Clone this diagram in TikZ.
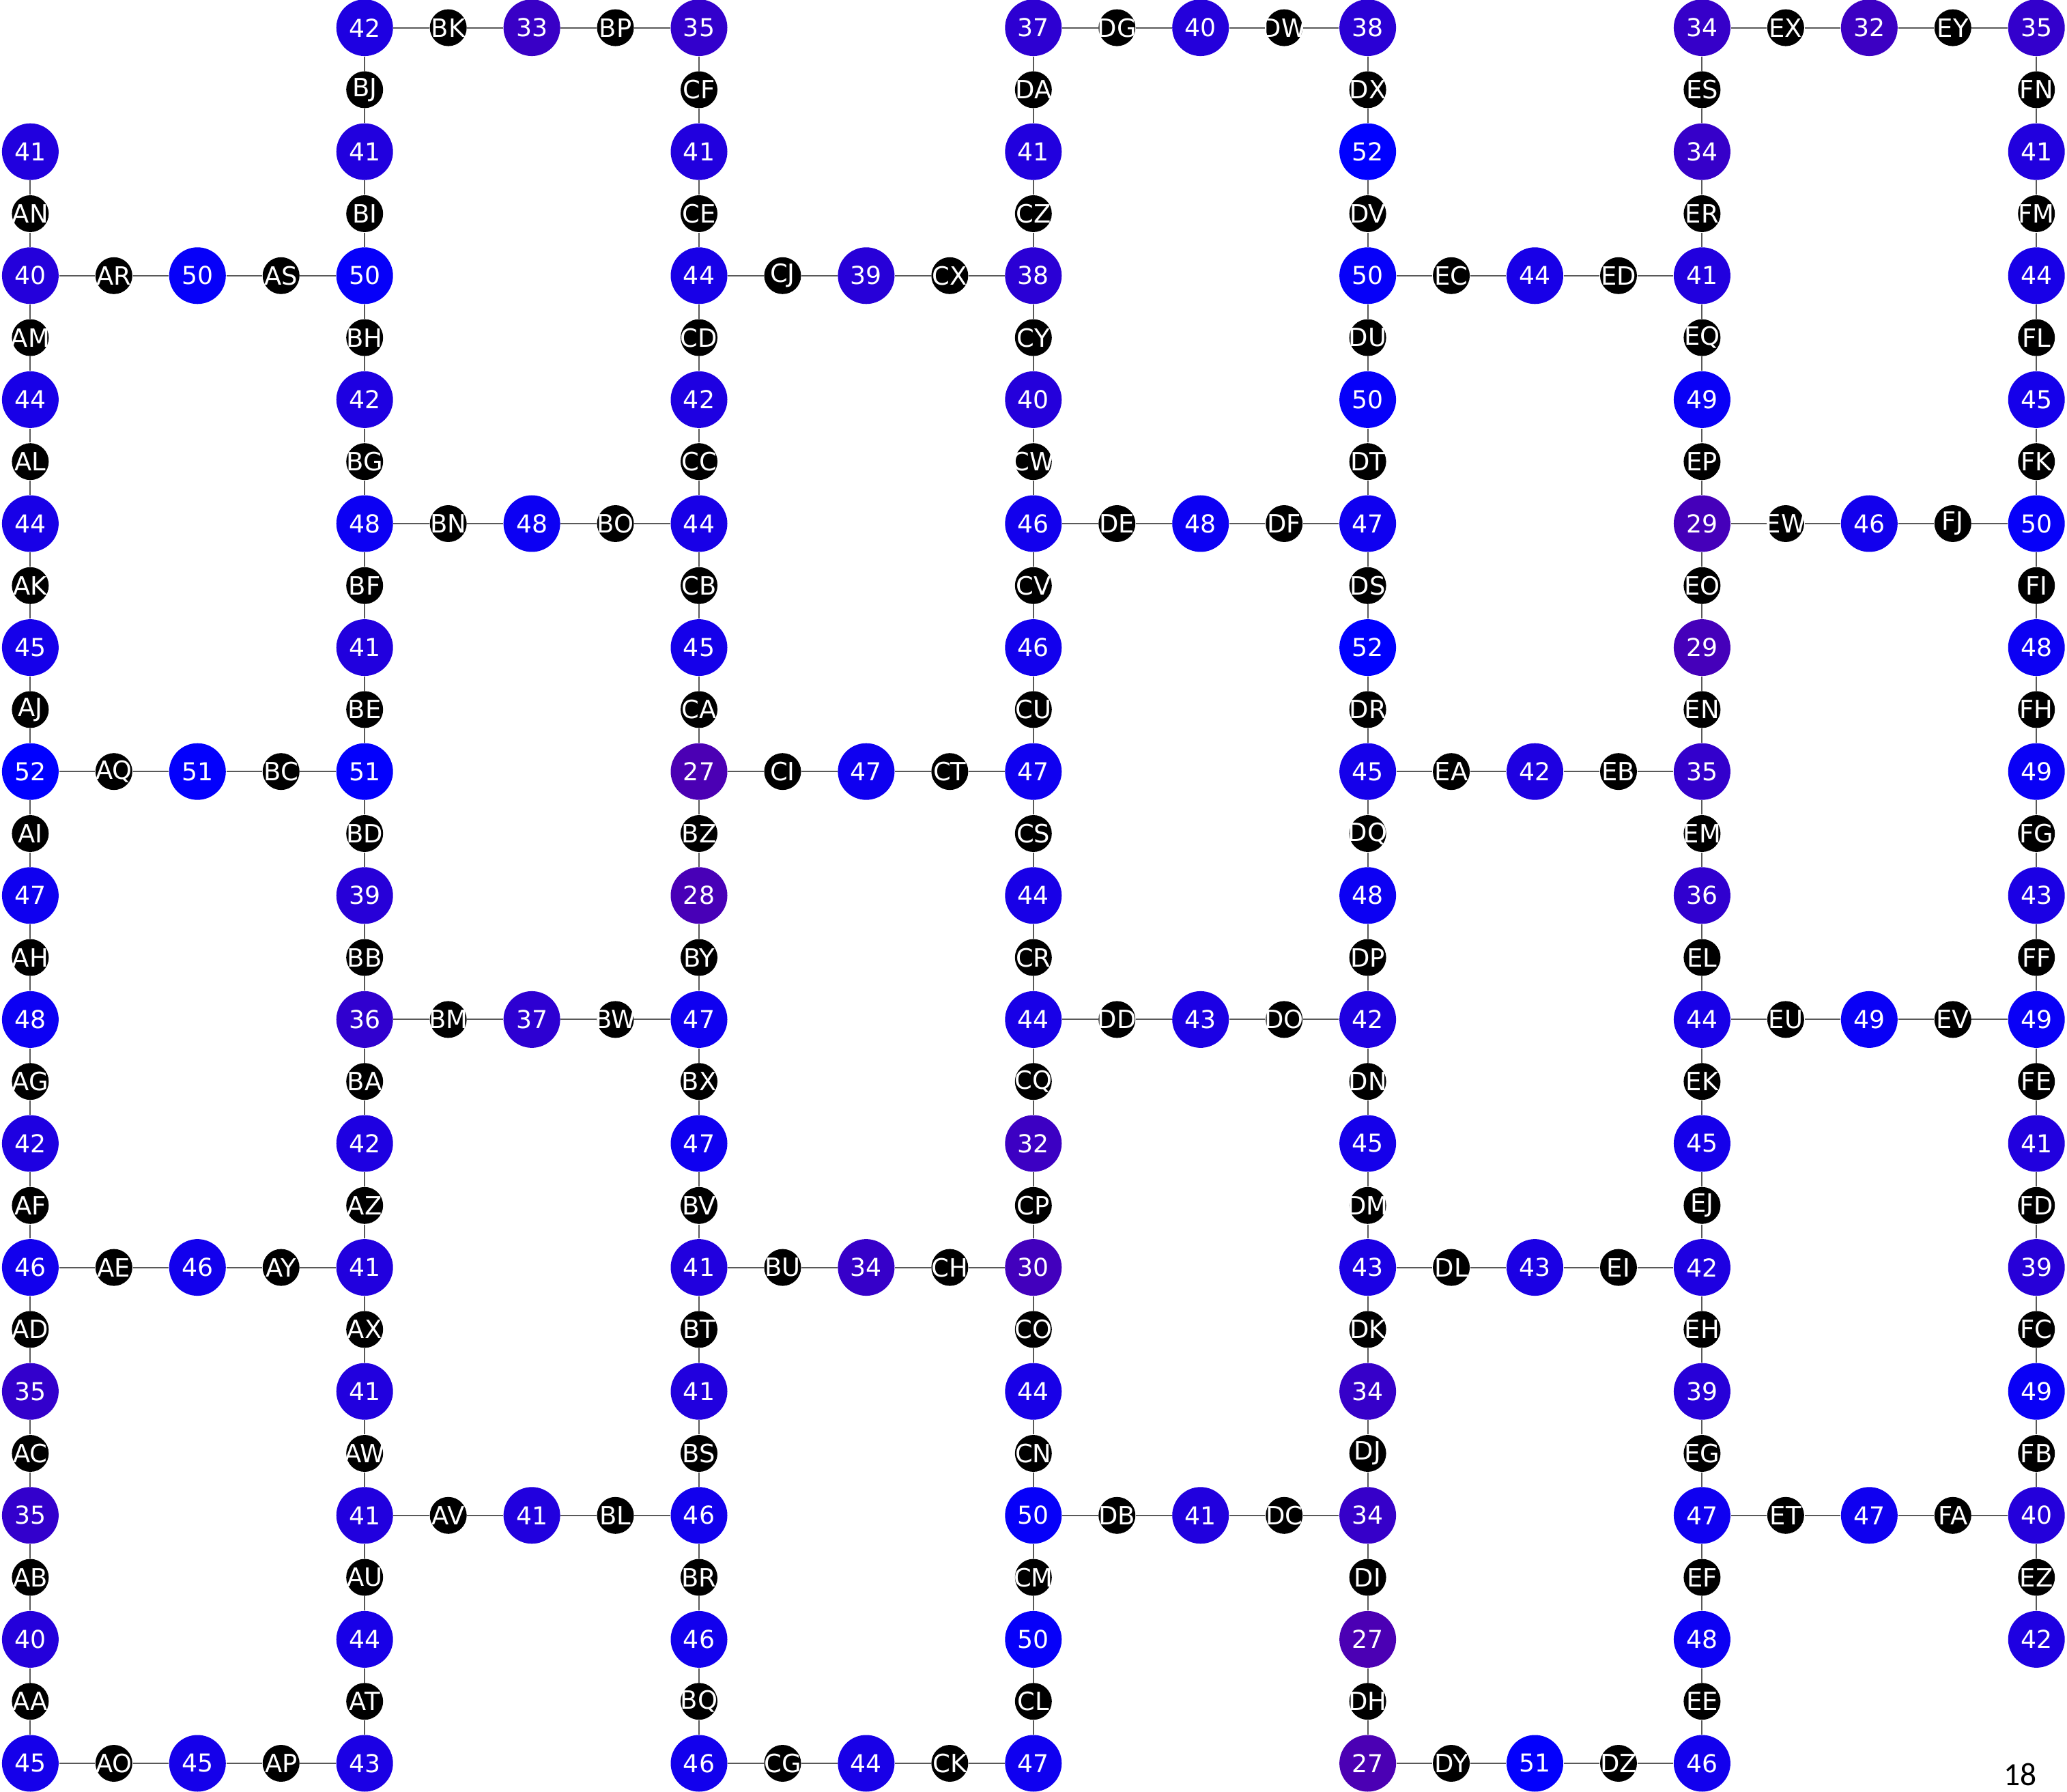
\documentclass[tikz,border=0pt]{standalone}
\usepackage{fontspec}
\setmainfont{DejaVu Sans}
\newfontfamily\pagefont{Carlito}
\usepackage{xcolor}
\usetikzlibrary{positioning}

\definecolor{hiblue}{RGB}{0,0,255}
\definecolor{lopurple}{RGB}{75,0,180}

\begin{document}
\begin{tikzpicture}[x=2.449cm, y=-1.816cm,
    bignode/.style={circle, minimum size=0.83cm, inner sep=0pt, text=white,
        font=\fontsize{10.3}{12}\selectfont},
    smallnode/.style={circle, fill=black, minimum size=0.54cm, inner sep=0pt, text=white,
        font=\fontsize{10.5}{12}\selectfont},
    edge/.style={black!65, line width=0.6pt}]
    \useasboundingbox (-0.444cm,0.406cm) rectangle ++(30.28cm,-26.25cm);

    % vertical chains: column / first row / values / labels in between
    \foreach \col/\fr/\vals/\labs in {
        0/1/{41,40,44,44,45,52,47,48,42,46,35,35,40,45}/{AN,AM,AL,AK,AJ,AI,AH,AG,AF,AD,AC,AB,AA},
        2/0/{42,41,50,42,48,41,51,39,36,42,41,41,41,44,43}/{BJ,BI,BH,BG,BF,BE,BD,BB,BA,AZ,AX,AW,AU,AT},
        4/0/{35,41,44,42,44,45,27,28,47,47,41,41,46,46,46}/{CF,CE,CD,CC,CB,CA,BZ,BY,BX,BV,BT,BS,BR,BQ},
        6/0/{37,41,38,40,46,46,47,44,44,32,30,44,50,50,47}/{DA,CZ,CY,CW,CV,CU,CS,CR,CQ,CP,CO,CN,CM,CL},
        8/0/{38,52,50,50,47,52,45,48,42,45,43,34,34,27,27}/{DX,DV,DU,DT,DS,DR,DQ,DP,DN,DM,DK,DJ,DI,DH},
        10/0/{34,34,41,49,29,29,35,36,44,45,42,39,47,48,46}/{ES,ER,EQ,EP,EO,EN,EM,EL,EK,EJ,EH,EG,EF,EE},
        12/0/{35,41,44,45,50,48,49,43,49,41,39,49,40,42}/{FN,FM,FL,FK,FI,FH,FG,FF,FE,FD,FC,FB,EZ}}{
        \foreach \v [count=\k from 0] in \vals {
            \pgfmathtruncatemacro\rw{\fr+\k}
            \pgfmathtruncatemacro\pct{4*(\v-27)}
            \node[bignode, fill=hiblue!\pct!lopurple] (n-\col-\rw) at (\col,\rw) {\v};
        }
        \foreach \l [count=\k from 0] in \labs {
            \pgfmathtruncatemacro\ra{\fr+\k}
            \pgfmathtruncatemacro\rb{\fr+\k+1}
            \node[smallnode] (\l) at (\col,\ra+0.5) {\makebox[0pt]{\l}};
            \draw[edge] (n-\col-\ra) -- (\l) -- (n-\col-\rb);
        }
    }

    % horizontal rungs: left column / row / label / value / label
    \foreach \col/\rw/\la/\v/\lb in {
        0/2/AR/50/AS, 0/6/AQ/51/BC, 0/10/AE/46/AY, 0/14/AO/45/AP,
        2/0/BK/33/BP, 2/4/BN/48/BO, 2/8/BM/37/BW, 2/12/AV/41/BL,
        4/2/CJ/39/CX, 4/6/CI/47/CT, 4/10/BU/34/CH, 4/14/CG/44/CK,
        6/0/DG/40/DW, 6/4/DE/48/DF, 6/8/DD/43/DO, 6/12/DB/41/DC,
        8/2/EC/44/ED, 8/6/EA/42/EB, 8/10/DL/43/EI, 8/14/DY/51/DZ,
        10/0/EX/32/EY, 10/4/EW/46/FJ, 10/8/EU/49/EV, 10/12/ET/47/FA}{
        \pgfmathtruncatemacro\cmid{\col+1}
        \pgfmathtruncatemacro\cend{\col+2}
        \pgfmathtruncatemacro\pct{4*(\v-27)}
        \node[smallnode] (\la) at (\col+0.5,\rw) {\makebox[0pt]{\la}};
        \node[bignode, fill=hiblue!\pct!lopurple] (n-\cmid-\rw) at (\cmid,\rw) {\v};
        \node[smallnode] (\lb) at (\col+1.5,\rw) {\makebox[0pt]{\lb}};
        \draw[edge] (n-\col-\rw) -- (\la) -- (n-\cmid-\rw) -- (\lb) -- (n-\cend-\rw);
    }

    \node[font=\pagefont\fontsize{13.5}{16}\selectfont] (pageno) at (11.905,14.09) {18};
\end{tikzpicture}
\end{document}
